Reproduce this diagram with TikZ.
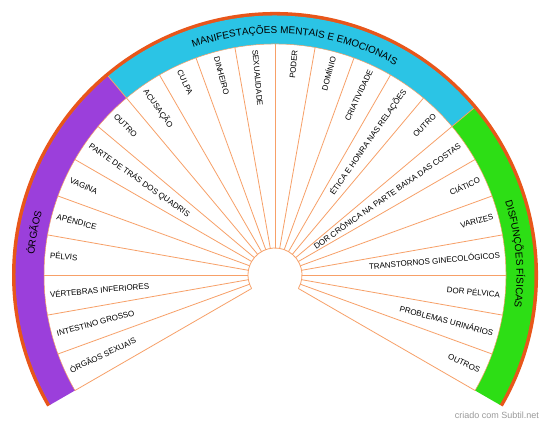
\documentclass[tikz,border=0pt]{standalone}
\usepackage{fontspec}
\setmainfont{Liberation Sans}
\usetikzlibrary{decorations.text}
\definecolor{rim}{HTML}{E8561A}
\definecolor{orgcol}{HTML}{9B3FDB}
\definecolor{mentcol}{HTML}{2BC4E5}
\definecolor{fiscol}{HTML}{2DDE15}
\definecolor{spoke}{HTML}{F7A068}
\definecolor{wmgray}{HTML}{9A9A9A}
\tikzset{
  lbl/.style={font=\fontsize{8}{9.6}\selectfont, inner sep=0pt, text height=5.7pt, text depth=0pt},
  spokeline/.style={draw=spoke, line width=0.8pt},
  bandtext/.style={decorate, decoration={text along path, text align=center, text={|\fontsize{10}{12}\selectfont|#1}}}
}
\begin{document}
\begin{tikzpicture}[x=1pt,y=1pt]
\useasboundingbox (0,0) rectangle (550,428);
\fill[white] (0,0) rectangle (550,428);
\begin{scope}[shift={(275,153)}]
  % outer rim
  \fill[rim] (-30:263pt) arc[start angle=-30,end angle=210,radius=263pt] -- (210:259pt) arc[start angle=210,end angle=-30,radius=259pt] -- cycle;
  % bands
  \fill[orgcol] (210:259.5pt) arc[start angle=210,end angle=130,radius=259.5pt] -- (130:231pt) arc[start angle=130,end angle=210,radius=231pt] -- cycle;
  \fill[mentcol] (130:259.5pt) arc[start angle=130,end angle=40,radius=259.5pt] -- (40:231pt) arc[start angle=40,end angle=130,radius=231pt] -- cycle;
  \fill[fiscol] (40:259.5pt) arc[start angle=40,end angle=-30,radius=259.5pt] -- (-30:231pt) arc[start angle=-30,end angle=40,radius=231pt] -- cycle;
  % band inner boundary and separators
  \draw[spoke, line width=0.5pt] (-30:231pt) arc[start angle=-30,end angle=210,radius=231pt];
  \foreach \a in {130,40} \draw[spokeline] (\a:231pt) -- (\a:259.5pt);
  % inner circle
  \draw[spokeline] (-30:27pt) arc[start angle=-30,end angle=210,radius=27pt];
  % spokes
  \foreach \i in {0,...,24} \draw[spokeline] ({-30+10*\i}:27pt) -- ({-30+10*\i}:231pt);
  % slice labels
  \foreach \a/\t [count=\n] in {
    205/ÓRGÃOS SEXUAIS, 195/INTESTINO GROSSO, 185/VÉRTEBRAS INFERIORES, 175/PÉLVIS,
    165/APÊNDICE, 155/VAGINA, 145/PARTE DE TRÁS DOS QUADRIS, 135/OUTRO,
    125/ACUSAÇÃO, 115/CULPA, 105/DINHEIRO, 95/SEXUALIDADE, 85/PODER, 75/DOMÍNIO,
    65/CRIATIVIDADE, 55/ÉTICA E HONRA NAS RELAÇÕES, 45/OUTRO,
    35/DOR CRÔNICA NA PARTE BAIXA DAS COSTAS, 25/CIÁTICO, 15/VARIZES,
    5/TRANSTORNOS GINECOLÓGICOS, -5/DOR PÉLVICA, -15/PROBLEMAS URINÁRIOS, -25/OUTROS} {
    \ifnum\a>90
      \node[lbl, anchor=west, rotate=\a-180] (l\n) at (\a:226pt) {\t};
    \else
      \node[lbl, anchor=east, rotate=\a] (l\n) at (\a:226pt) {\t};
    \fi
  }
  % band titles
  \path[bandtext={ÓRGÃOS}] (210:241.5pt) arc[start angle=210,end angle=130,radius=241.5pt];
  \path[bandtext={MANIFESTAÇÕES MENTAIS E EMOCIONAIS}] (130:241.5pt) arc[start angle=130,end angle=40,radius=241.5pt];
  \path[bandtext={DISFUNÇÕES FÍSICAS}] (40:241.5pt) arc[start angle=40,end angle=-30,radius=241.5pt];
\end{scope}
\node[font=\fontsize{9}{11}\selectfont, text=wmgray, anchor=base east, inner sep=0pt] (wm) at (539,9) {criado com Subtil.net};
\end{tikzpicture}
\end{document}
